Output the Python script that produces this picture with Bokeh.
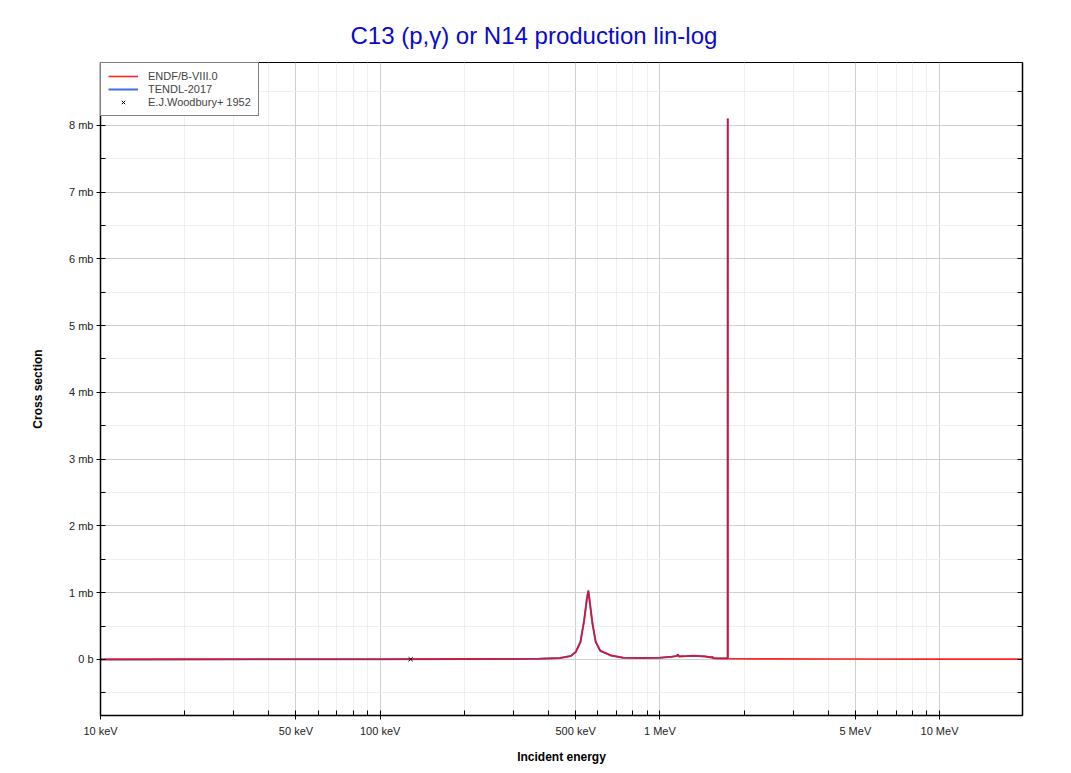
from bokeh.plotting import figure
from bokeh.models import (FixedTicker, Legend, LegendItem, LinearAxis, Range1d,
                          CustomJSTickFormatter)
from bokeh.embed import file_html
from bokeh.resources import INLINE

# ---- data (energies in MeV, cross sections in mb) ----
endf_energy = [0.01, 0.02, 0.05, 0.1, 0.2, 0.3, 0.37, 0.44, 0.48, 0.5, 0.52, 0.536, 0.548, 0.555,
               0.562, 0.574, 0.59, 0.612, 0.668, 0.74, 0.85, 1.0, 1.1, 1.15, 1.16, 1.17, 1.25, 1.33,
               1.45, 1.53, 1.54, 1.55, 1.65, 1.748, 1.749, 1.75, 1.8, 2.5, 5.0, 10.0, 20.0]
endf_xs = [0.0, 0.001, 0.002, 0.003, 0.005, 0.007, 0.01, 0.02, 0.05, 0.11, 0.26, 0.58, 0.9, 1.03,
           0.85, 0.54, 0.26, 0.13, 0.06, 0.025, 0.022, 0.025, 0.04, 0.05, 0.075, 0.045, 0.05, 0.055,
           0.045, 0.03, 0.04, 0.018, 0.015, 0.015, 8.1, 0.012, 0.01, 0.008, 0.006, 0.005, 0.005]

tendl_energy = [0.01, 0.02, 0.05, 0.1, 0.2, 0.3, 0.37, 0.44, 0.48, 0.5, 0.52, 0.536, 0.548, 0.555,
                0.562, 0.574, 0.59, 0.612, 0.668, 0.74, 0.85, 1.0, 1.1, 1.15, 1.16, 1.17, 1.25, 1.33,
                1.45, 1.53, 1.54, 1.55, 1.65, 1.748, 1.749, 1.75]
tendl_xs = [0.0, 0.001, 0.002, 0.003, 0.005, 0.007, 0.01, 0.02, 0.05, 0.11, 0.26, 0.58, 0.9, 1.03,
            0.85, 0.54, 0.26, 0.13, 0.06, 0.025, 0.022, 0.025, 0.04, 0.05, 0.075, 0.045, 0.05, 0.055,
            0.045, 0.03, 0.04, 0.018, 0.015, 0.015, 8.1, 0.012]

exp_energy = [0.1285]
exp_xs = [0.002]

x_major_ticks = [0.01, 0.05, 0.1, 0.5, 1.0, 5.0, 10.0]
x_major_labels = ["10 keV", "50 keV", "100 keV", "500 keV", "1 MeV", "5 MeV", "10 MeV"]
x_minor_ticks = [0.02, 0.03, 0.04, 0.06, 0.07, 0.08, 0.09,
                 0.2, 0.3, 0.4, 0.6, 0.7, 0.8, 0.9,
                 2.0, 3.0, 4.0, 6.0, 7.0, 8.0, 9.0, 20.0]
y_major_ticks = [0, 1, 2, 3, 4, 5, 6, 7, 8]
y_major_labels = ["0 b", "1 mb", "2 mb", "3 mb", "4 mb", "5 mb", "6 mb", "7 mb", "8 mb"]
y_minor_ticks = [-0.5, 0.5, 1.5, 2.5, 3.5, 4.5, 5.5, 6.5, 7.5, 8.5]

FONT = "Liberation Sans"
W, H = 1050, 769

p = figure(width=W, height=H, x_axis_type="log", output_backend="svg",
           toolbar_location=None, x_range=Range1d(0.01, 19.8), y_range=Range1d(-0.84, 8.94),
           min_border_left=100, min_border_right=W - 1022, min_border_top=62,
           min_border_bottom=H - 715,
           title="C13 (p,\u03b3) or N14 production lin-log")
p.title.text_font = FONT
p.title.text_font_size = "24px"
p.title.text_font_style = "normal"
p.title.text_color = "#0a0acc"
p.title.align = "left"
p.title.offset = 250
p.title.standoff = 28

p.outline_line_color = "black"
p.outline_line_width = 1
p.outline_line_alpha = 1
p.background_fill_color = "white"
p.border_fill_color = "white"

xt = FixedTicker(ticks=x_major_ticks, minor_ticks=x_minor_ticks)
yt = FixedTicker(ticks=y_major_ticks, minor_ticks=y_minor_ticks)

xa = p.xaxis[0]
xa.ticker = xt
xa.major_label_overrides = {v: l for v, l in zip(x_major_ticks, x_major_labels)}
xa.axis_label = "Incident energy"
ya = p.yaxis[0]
ya.ticker = yt
ya.major_label_overrides = {v: l for v, l in zip(y_major_ticks, y_major_labels)}
ya.axis_label = "Cross section"

for ax in (xa, ya):
    ax.axis_line_color = "black"
    ax.axis_line_width = 1.5
    ax.major_tick_line_color = "black"
    ax.minor_tick_line_color = "black"
    ax.major_tick_in = 5
    ax.major_tick_out = 4
    ax.minor_tick_in = 5
    ax.minor_tick_out = 0
    ax.major_label_text_font = FONT
    ax.major_label_text_font_size = "11px"
    ax.major_label_text_color = "#222222"
    ax.axis_label_text_font = FONT
    ax.axis_label_text_font_size = "12px"
    ax.axis_label_text_font_style = "bold"
    ax.axis_label_text_color = "black"
xa.major_label_standoff = 5
xa.axis_label_standoff = 10
ya.major_label_standoff = 3
ya.axis_label_standoff = 21

# right tick-only axis
ra = LinearAxis(ticker=yt, formatter=CustomJSTickFormatter(code="return ''"),
                axis_line_color="black", axis_line_width=1.5,
                major_tick_in=5, major_tick_out=0, minor_tick_in=5, minor_tick_out=0,
                major_label_standoff=0)
p.add_layout(ra, "right")

for g in (p.xgrid[0], p.ygrid[0]):
    g.grid_line_color = "#cfcfcf"
    g.grid_line_width = 1
    g.minor_grid_line_color = "#efefef"
    g.minor_grid_line_width = 1
p.xgrid[0].ticker = xt
p.ygrid[0].ticker = yt

r_tendl = p.line(tendl_energy, tendl_xs, line_color="#3f6fe6", line_width=2)
r_endf = p.line(endf_energy, endf_xs, line_color="#ff0000", line_width=1.6, line_alpha=0.85)
r_exp = p.scatter(exp_energy, exp_xs, marker="x", size=6, line_color="black", line_width=1)

legend = Legend(items=[LegendItem(label="ENDF/B-VIII.0", renderers=[r_endf]),
                       LegendItem(label="TENDL-2017", renderers=[r_tendl]),
                       LegendItem(label="E.J.Woodbury+ 1952", renderers=[r_exp])],
                location="top_left", margin=0, padding=7, spacing=1,
                label_text_font=FONT, label_text_font_size="11px", label_height=12,
                glyph_height=12, glyph_width=30, label_standoff=10,
                border_line_color="black", border_line_width=1, background_fill_alpha=1)
p.add_layout(legend)

open("out.html", "w").write(file_html(p, INLINE))
